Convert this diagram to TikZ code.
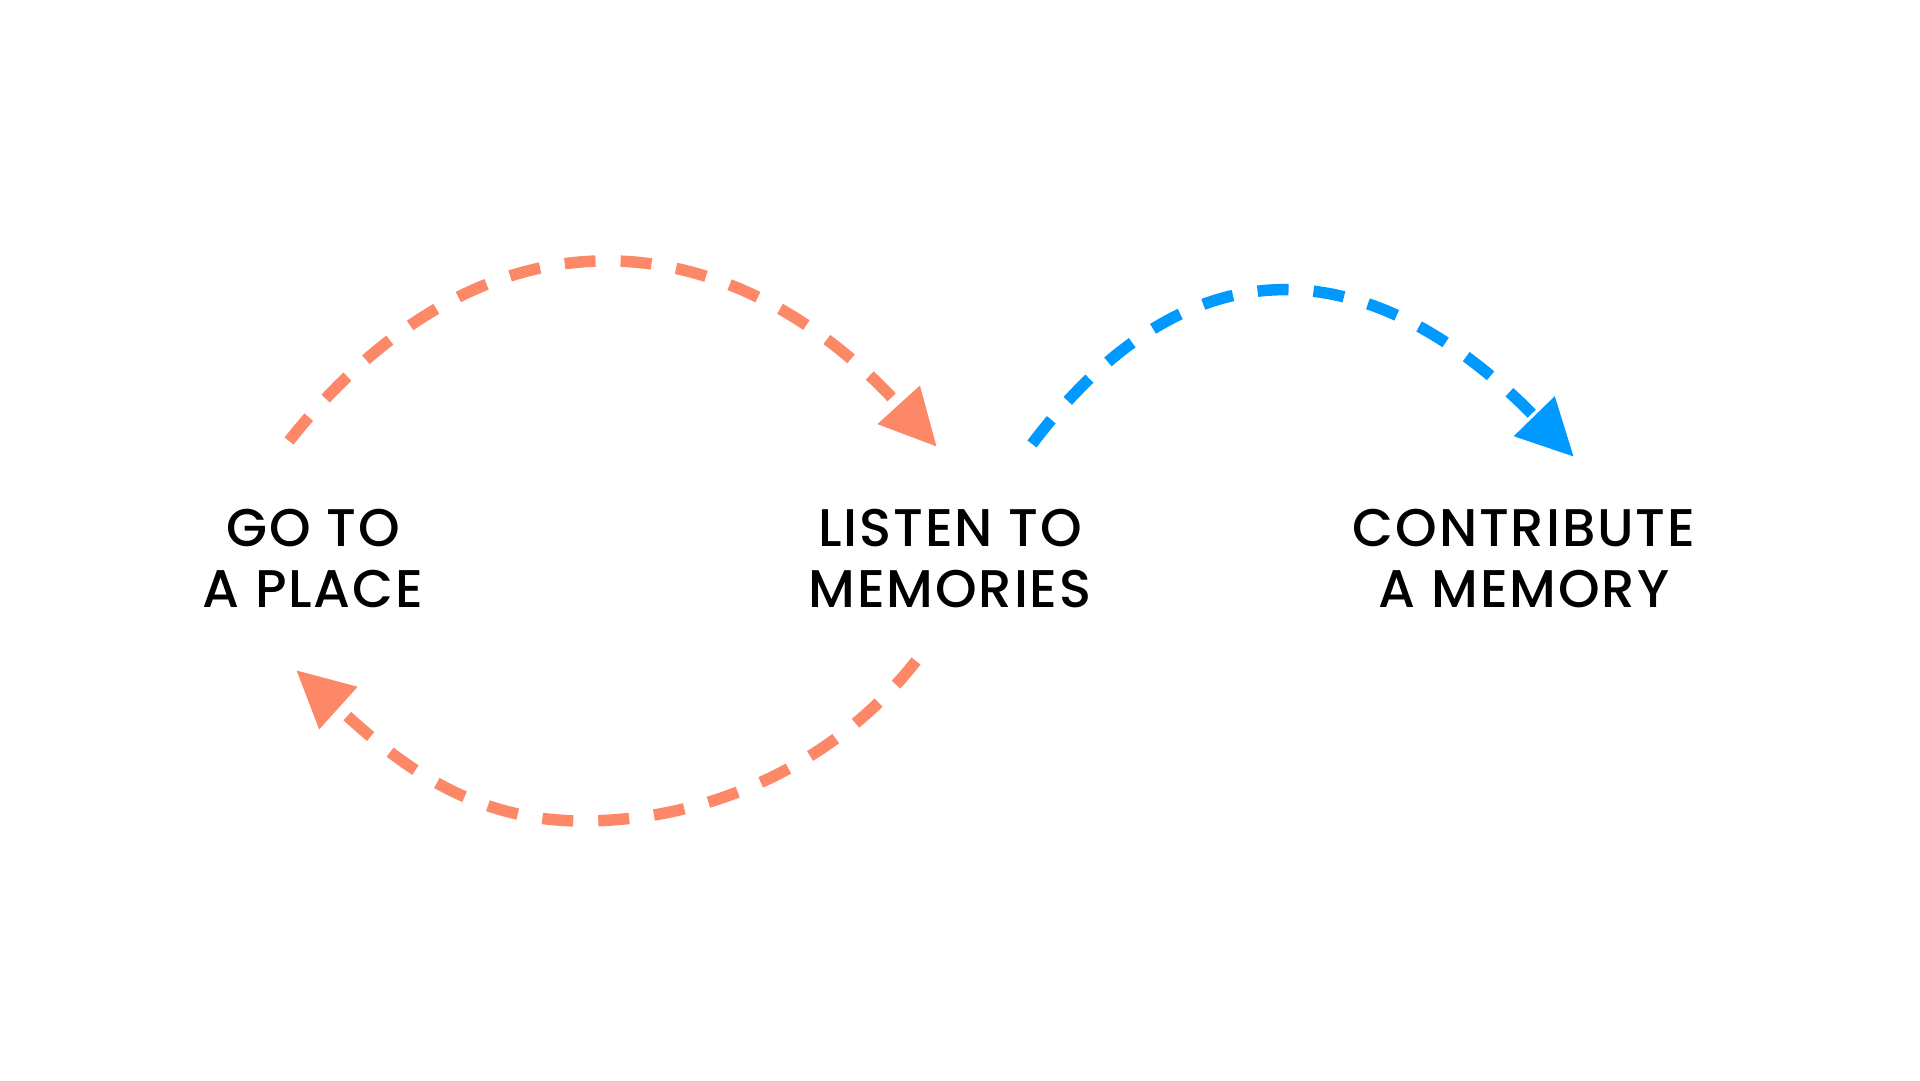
\documentclass[tikz,border=0pt]{standalone}
\usepackage{fontspec}
\setmainfont{Poppins}[UprightFont=* Medium, LetterSpace=3.5]
\usetikzlibrary{arrows.meta}
\definecolor{coral}{RGB}{252,136,104}
\definecolor{skyblue}{RGB}{0,153,255}
\begin{document}
\begin{tikzpicture}[x=1pt,y=1pt,
  label/.style={align=center, text=black, inner sep=0pt, font=\fontsize{53}{61}\selectfont},
  flow/.style={line width=11.5pt, dash pattern=on 31pt off 25pt,
    -{Triangle[length=57pt,width=54pt]}}]
\useasboundingbox (0,0) rectangle (1920,1080);
\node[label] (go) at (313,521) {GO TO\\A PLACE};
\node[label] (listen) at (950,521) {LISTEN TO\\MEMORIES};
\node[label] (contribute) at (1524,521) {CONTRIBUTE\\A MEMORY};
\coordinate (goTop) at (289,639);
\coordinate (listenTopIn) at (937,633);
\coordinate (listenTopOut) at (1032,636);
\coordinate (contributeIn) at (1574,623);
\coordinate (listenBottom) at (916,419);
\coordinate (goBottom) at (296,410);
\coordinate (lowPoint) at (582,259);
\draw[flow, coral] (goTop) .. controls (492,894) and (737,853) .. (listenTopIn);
\draw[flow, skyblue] (listenTopOut) .. controls (1200,858) and (1385,817) .. (contributeIn);
\draw[flow, coral] (listenBottom) .. controls (842,324) and (720,259) .. (lowPoint)
  .. controls (460,259) and (385,330) .. (goBottom);
\end{tikzpicture}
\end{document}
